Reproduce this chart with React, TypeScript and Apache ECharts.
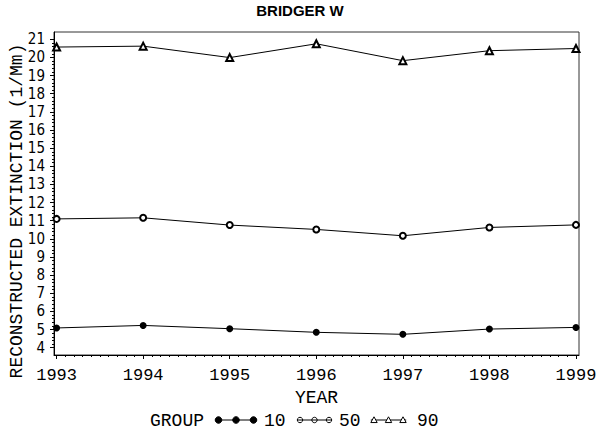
import React, { useEffect, useRef } from 'react';
import * as echarts from 'echarts';

const TITLE = 'BRIDGER W';
const X_NAME = 'YEAR';
const Y_NAME = 'RECONSTRUCTED EXTINCTION (1/Mm)';
const LEGEND_TITLE = 'GROUP';
const GROUPS = ['10', '50', '90'];
const YEARS = [1993, 1994, 1995, 1996, 1997, 1998, 1999];
const Y_TICKS = [4, 5, 6, 7, 8, 9, 10, 11, 12, 13, 14, 15, 16, 17, 18, 19, 20, 21];
const P10 = [5.09, 5.23, 5.05, 4.85, 4.74, 5.03, 5.12];
const P50 = [11.1, 11.16, 10.76, 10.52, 10.17, 10.63, 10.77];
const P90 = [20.57, 20.62, 19.99, 20.75, 19.82, 20.37, 20.49];

const FONT = '"Liberation Mono", "DejaVu Sans Mono", monospace';
const NARROW = '"DejaVu Sans Condensed", "DejaVu Sans", sans-serif';
const X_MIN = 1992.97;
const X_MAX = 1999.035;
const Y_MIN = 3.6;
const Y_MAX = 21.4;

const xMinor: number[] = [];
for (let i = 0; i < YEARS.length - 1; i++) {
  for (let k = 1; k < 10; k++) xMinor.push(YEARS[i] + (YEARS[i + 1] - YEARS[i]) * k / 10);
}
const yMinor: number[] = [];
for (let i = 0; i < Y_TICKS.length - 1; i++) {
  for (let k = 1; k < 5; k++) yMinor.push(Y_TICKS[i] + (Y_TICKS[i + 1] - Y_TICKS[i]) * k / 5);
}

function legendItem(kind: string, x0: number, step: number, r: number, label: string, labelX: number) {
  const cy = 420;
  const els: any[] = [];
  els.push({ type: 'line', shape: { x1: x0 - r, y1: cy, x2: x0 + 2 * step + r, y2: cy }, style: { stroke: '#000', lineWidth: 1 } });
  for (let i = 0; i < 3; i++) {
    const cx = x0 + i * step;
    if (kind === 'filled') {
      els.push({ type: 'circle', shape: { cx, cy, r }, style: { fill: '#000', stroke: '#000', lineWidth: 1 } });
    } else if (kind === 'open') {
      els.push({ type: 'circle', shape: { cx, cy, r }, style: { fill: 'none', stroke: '#000', lineWidth: 1 } });
    } else {
      els.push({ type: 'polygon', shape: { points: [[cx, cy - r], [cx + r, cy + r * 0.8], [cx - r, cy + r * 0.8]] }, style: { fill: '#fff', stroke: '#000', lineWidth: 1 } });
    }
  }
  els.push({ type: 'text', x: labelX, y: cy + 0.5, style: { text: label, fontFamily: FONT, fontSize: 18, fill: '#000', align: 'left', verticalAlign: 'middle' } });
  return els;
}

export default function App() {
  const ref = useRef<HTMLDivElement>(null);
  useEffect(() => {
    const chart = echarts.init(ref.current!, null, { renderer: 'svg' });
    const mk = (vals: number[]) => YEARS.map((y, i) => [y, vals[i]]);
    const lineStyle = { color: '#000', width: 1 };
    const option: any = {
      animation: false,
      backgroundColor: '#fff',
      title: {
        text: TITLE,
        left: 'center',
        top: 3,
        padding: 0,
        textStyle: { fontFamily: '"Liberation Sans", Arial, sans-serif', fontWeight: 'bold', fontSize: 15, color: '#000' },
      },
      grid: { left: 54, right: 21, top: 32, bottom: 75, show: true, borderColor: '#333', borderWidth: 1 },
      xAxis: [
        {
          type: 'value', min: X_MIN, max: X_MAX, position: 'bottom',
          name: X_NAME, nameLocation: 'middle', nameGap: 33,
          nameTextStyle: { fontFamily: FONT, fontSize: 18, color: '#000' },
          axisLine: { show: true, lineStyle: { color: '#000', width: 1 } },
          axisTick: { show: true, length: 4, customValues: YEARS, lineStyle: { color: '#000' } },
          axisLabel: { customValues: YEARS, formatter: (v: number) => String(Math.round(v)), fontFamily: FONT, fontSize: 17, color: '#000', margin: 12 },
          splitLine: { show: false },
        },
        {
          type: 'value', min: X_MIN, max: X_MAX, position: 'bottom',
          axisLine: { show: false },
          axisTick: { show: true, length: 2, customValues: xMinor, lineStyle: { color: '#000' } },
          axisLabel: { show: false },
          splitLine: { show: false },
        },
      ],
      yAxis: [
        {
          type: 'value', min: Y_MIN, max: Y_MAX, position: 'left',
          axisLine: { show: true, lineStyle: { color: '#000', width: 1 } },
          axisTick: { show: true, length: 4, customValues: Y_TICKS, lineStyle: { color: '#000' } },
          axisLabel: { customValues: Y_TICKS, formatter: (v: number) => String(Math.round(v)), fontFamily: NARROW, fontSize: 15, color: '#000', margin: 9 },
          splitLine: { show: false },
        },
        {
          type: 'value', min: Y_MIN, max: Y_MAX, position: 'left',
          axisLine: { show: false },
          axisTick: { show: true, length: 2, customValues: yMinor, lineStyle: { color: '#000' } },
          axisLabel: { show: false },
          splitLine: { show: false },
        },
      ],
      series: [
        { name: GROUPS[0], type: 'line', data: mk(P10), symbol: 'circle', symbolSize: 7, lineStyle, itemStyle: { color: '#000' } },
        { name: GROUPS[1], type: 'line', data: mk(P50), symbol: 'emptyCircle', symbolSize: 6, lineStyle, itemStyle: { color: '#000', borderWidth: 1 } },
        { name: GROUPS[2], type: 'line', data: mk(P90), symbol: 'emptyTriangle', symbolSize: [7, 7], lineStyle, itemStyle: { color: '#000', borderWidth: 1 } },
      ],
      graphic: [
        {
          type: 'text', x: 17, y: 211, rotation: Math.PI / 2,
          style: { text: Y_NAME, fontFamily: FONT, fontSize: 18, fill: '#000', align: 'center', verticalAlign: 'middle' },
        },
        {
          type: 'text', x: 150, y: 420.5,
          style: { text: LEGEND_TITLE, fontFamily: FONT, fontSize: 18, fill: '#000', align: 'left', verticalAlign: 'middle' },
        },
        ...legendItem('filled', 218.5, 17.5, 3.3, GROUPS[0], 264),
        ...legendItem('open', 300, 14.5, 2.7, GROUPS[1], 339),
        ...legendItem('tri', 374, 14.5, 3.2, GROUPS[2], 417),
      ],
    };
    chart.setOption(option);
    return () => chart.dispose();
  }, []);
  return <div ref={ref} style={{ position: 'fixed', left: 0, top: 0, width: 600, height: 430, background: '#fff' }} />;
}
